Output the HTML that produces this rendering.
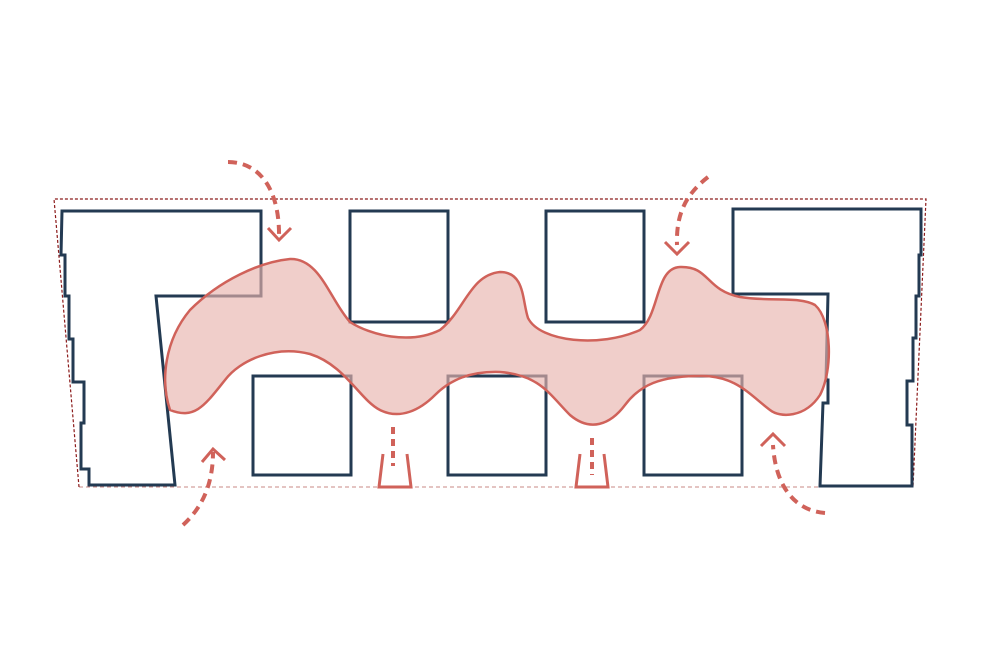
<!DOCTYPE html>
<html><head><style>body{margin:0;background:#fff}svg{display:block}</style></head>
<body>
<svg width="1000" height="667" viewBox="0 0 1000 667" xmlns="http://www.w3.org/2000/svg">
<g fill="none">
<path d="M79,487 L913,487" stroke="#c98a85" stroke-width="1" stroke-dasharray="4,3"/>
<path d="M79,487 L54,199 L926,199 L913,487" stroke="#8b1a1a" stroke-width="1.2" stroke-dasharray="3,2"/>
<g stroke="#233a52" stroke-width="3" stroke-linejoin="miter">
<path d="M62,211 L261,211 L261,296 L156,296 L175,485 L89,485 L89,469 L81,469 L81,423 L84,423 L84,382 L73,382 L73,339 L69,339 L69,296 L65,296 L65,255 L61,255 Z"/>
<path d="M733,209 L921,209 L921,255 L919,255 L919,296 L916,296 L916,338 L913,338 L913,381 L907,381 L907,425 L912,425 L912,486 L820,486 L823,403 L828,403 L828,380 L826,380 L828,294 L733,294 Z"/>
<rect x="350" y="211" width="98" height="111"/>
<rect x="546" y="211" width="98" height="111"/>
<rect x="253" y="376" width="98" height="99"/>
<rect x="448" y="376" width="98" height="99"/>
<rect x="644" y="376" width="98" height="99"/>
</g>
<path d="M170,410 C160,380 165,340 190,310 C220,280 260,262 290,259 C320,258 330,300 350,322 C370,335 410,345 440,330 C465,310 470,275 500,272 C525,272 522,300 528,318 C540,342 600,348 640,330 C660,315 655,268 680,267 C710,266 705,290 740,297 C770,302 800,296 815,305 C832,320 833,370 820,395 C805,418 780,418 770,410 C750,395 735,375 700,376 C660,376 640,385 625,405 C610,425 590,432 570,415 C550,395 540,375 500,372 C470,371 450,380 435,395 C420,410 400,420 380,410 C360,400 345,365 310,354 C275,345 240,360 225,380 C205,405 195,420 170,410 Z" fill="#e8b4ad" fill-opacity="0.65" stroke="#d0625a" stroke-width="2.5"/>
<g stroke="#d0625a" stroke-width="3">
<path d="M383,454 L379,487 L411,487 L407,454"/>
<path d="M580,454 L576,487 L608,487 L604,454"/>
<g stroke-width="4">
<path d="M393,427 L393,466" stroke-dasharray="7,5"/>
<path d="M592,438 L592,475" stroke-dasharray="7,5"/>
<path d="M228,162 C260,162 280,190 279,238" stroke-dasharray="9,6"/>
<path d="M708,177 C685,195 676,215 677,245" stroke-dasharray="9,6"/>
<path d="M183,525 C205,505 213,480 213,452" stroke-dasharray="9,6"/>
<path d="M825,513 C790,510 775,480 773,445" stroke-dasharray="9,6"/>
</g>
<path d="M268,228 L279,240 L291,228"/>
<path d="M665,242 L677,254 L689,242"/>
<path d="M202,462 L213,449 L225,460"/>
<path d="M761,446 L773,434 L785,446"/>
</g>
</g>
</svg>
</body></html>
